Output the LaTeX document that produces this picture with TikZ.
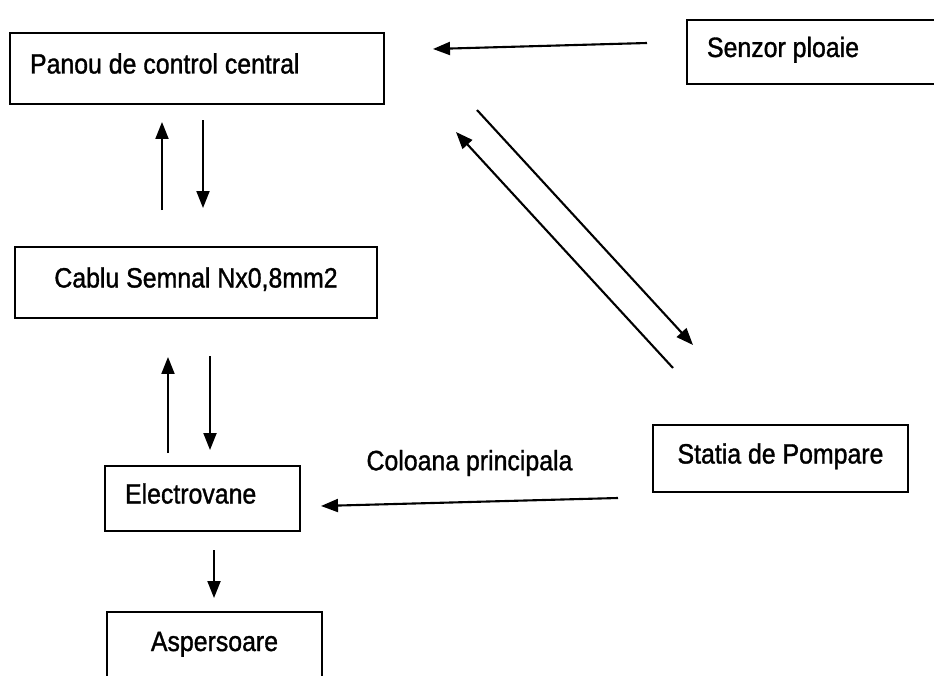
\documentclass[tikz,border=0pt]{standalone}
\usepackage{fontspec}
\setmainfont{Liberation Sans}[FakeStretch=0.89,FakeBold=1.2]
\usepackage{tikz}
\usetikzlibrary{arrows.meta}
\tikzset{
  % node options
  box/.style={rectangle,draw,line width=1.4pt,text height=0.4cm,text depth=0.2cm},
  boxleft/.style={box,align=flush left,inner xsep=0.4cm},
  label/.style={inner sep=0pt},
  % path options
  flow/.style={-{Triangle[length=0.34cm,width=0.26cm]},line width=1.2pt},
}

\begin{document}
\begin{tikzpicture}[x=0.02cm,y=-0.02cm,font=\fontsize{15.9}{19}\selectfont]
    \useasboundingbox (0,0) rectangle (934,676);
    \clip (0,0) rectangle (934,676);
    % boxes
    \node[boxleft,text width=6.68cm,minimum height=1.42cm] (panou) at (197,68.5) {Panou de control central};
    \node[boxleft,text width=4.66cm,minimum height=1.28cm] (senzor) at (823.5,52) {Senzor ploaie};
    \node[box,minimum width=7.24cm,minimum height=1.42cm] (cablu) at (196,282.5) {Cablu Semnal Nx0,8mm2};
    \node[box,minimum width=5.1cm,minimum height=1.34cm] (statia) at (780.5,458.5) {Statia de Pompare};
    \node[boxleft,text width=3.1cm,minimum height=1.3cm] (electro) at (202.5,498.5) {Electrovane};
    \node[box,minimum width=4.3cm,minimum height=1.36cm] (aspers) at (214.5,646) {Aspersoare};
    % arrow ends
    \coordinate (senzor-out) at (647,43);   \coordinate (panou-in) at (433,49);
    \coordinate (panou-down) at (203,120);  \coordinate (cablu-in) at (203,208);
    \coordinate (cablu-up) at (162,210);    \coordinate (panou-up) at (162,122);
    \coordinate (cablu-down) at (210,356);  \coordinate (electro-in) at (210,450);
    \coordinate (electro-up) at (168,453);  \coordinate (cablu-back) at (168,357);
    \coordinate (panou-diag) at (477,110);  \coordinate (statia-in) at (693,345);
    \coordinate (statia-diag) at (673,368); \coordinate (panou-back) at (456,132);
    \coordinate (statia-out) at (618,498);  \coordinate (electro-left) at (321,506);
    \coordinate (electro-out) at (214,550); \coordinate (aspers-in) at (214,598);
    % connections
    \draw[flow] (senzor-out) -- (panou-in);
    \draw[flow] (panou-down) -- (cablu-in);
    \draw[flow] (cablu-up) -- (panou-up);
    \draw[flow] (cablu-down) -- (electro-in);
    \draw[flow] (electro-up) -- (cablu-back);
    \draw[flow] (panou-diag) -- (statia-in);
    \draw[flow] (statia-diag) -- (panou-back);
    \draw[flow] (statia-out) -- node[label,midway,yshift=0.78cm] (coloana) {Coloana principala} (electro-left);
    \draw[flow] (electro-out) -- (aspers-in);
\end{tikzpicture}
\end{document}
